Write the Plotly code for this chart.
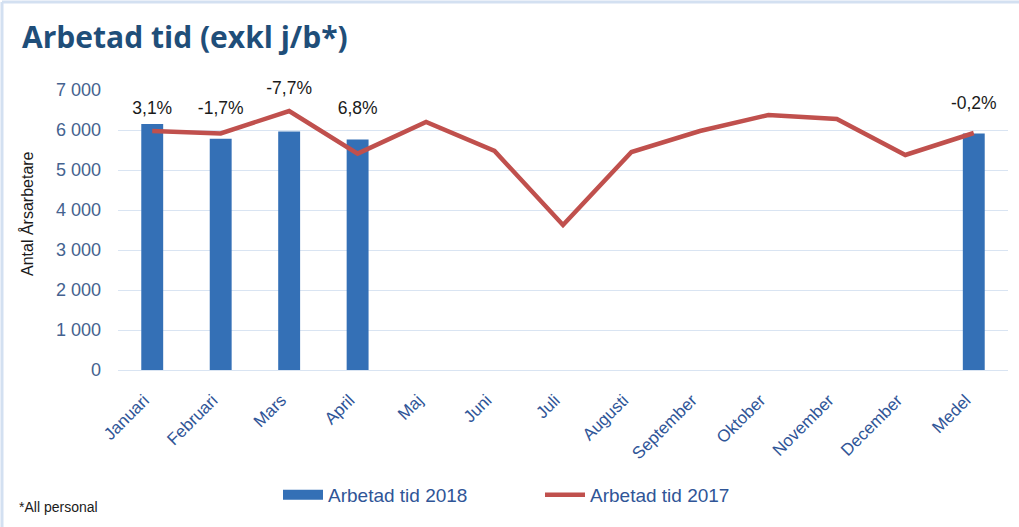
import plotly.graph_objects as go

categories = ["Januari", "Februari", "Mars", "April", "Maj", "Juni", "Juli",
              "Augusti", "September", "Oktober", "November", "December", "Medel"]
values_2018 = [6150, 5780, 5965, 5760, None, None, None, None, None, None, None, None, 5915]
values_2017 = [5975, 5915, 6475, 5410, 6200, 5475, 3625, 5450, 5975, 6375, 6275, 5375, 5925]
label_categories = ["Januari", "Februari", "Mars", "April", "Medel"]
label_texts = ["3,1%", "-1,7%", "-7,7%", "6,8%", "-0,2%"]
label_y = [6500, 6500, 7000, 6500, 6625]
tick_vals = [0, 1000, 2000, 3000, 4000, 5000, 6000, 7000]
tick_text = ["0", "1 000", "2 000", "3 000", "4 000", "5 000", "6 000", "7 000"]

W, H = 1019, 527
L, R, T, B = 118, 11, 90, 157
pw, ph = W - L - R, H - T - B
BLUE = "#3470B6"
RED = "#C0504D"


def px(x):
    return (x - L) / pw


def py(y):
    return (H - B - y) / ph


fig = go.Figure()
fig.add_trace(go.Bar(
    x=categories, y=values_2018, name="Arbetad tid 2018",
    marker=dict(color=BLUE, line=dict(width=0)), width=0.32, showlegend=False,
))
fig.add_trace(go.Scatter(
    x=categories, y=values_2017, name="Arbetad tid 2017", mode="lines",
    line=dict(color=RED, width=4.5), showlegend=False,
))
fig.add_trace(go.Scatter(
    x=label_categories, y=label_y, mode="text", text=label_texts, cliponaxis=False,
    textfont=dict(size=17.5, color="#1a1a1a", family="Liberation Sans"),
    showlegend=False, hoverinfo="skip",
))
# legend entries (wide rectangle / line symbols as in the reference)
fig.add_trace(go.Scatter(x=[None], y=[None], mode="lines", name="Arbetad tid 2018",
                         line=dict(color=BLUE, width=10)))
fig.add_trace(go.Scatter(x=[None], y=[None], mode="lines", name="Arbetad tid 2017",
                         line=dict(color=RED, width=4.5)))

fig.update_layout(
    width=W, height=H,
    margin=dict(l=L, r=R, t=T, b=B),
    paper_bgcolor="white", plot_bgcolor="white",
    title=dict(text="<b>Arbetad tid (exkl j/b*)</b>", xref="container", yref="container",
               x=22 / W, xanchor="left", y=1 - 37 / H, yanchor="middle",
               font=dict(family="Open Sans", size=30, color="#1F4E79")),
    xaxis=dict(type="category", range=[-0.5, len(categories) - 0.5], tickangle=-45,
               showgrid=False, showline=False, ticks="", ticklabelstandoff=16,
               ticklabelshift=-8,
               tickfont=dict(family="Liberation Sans", size=17, color="#2F5597")),
    yaxis=dict(range=[0, 7000], tickvals=tick_vals, ticktext=tick_text,
               showgrid=True, gridcolor="#D9E4F2", gridwidth=1, zeroline=True,
               zerolinecolor="#D9E4F2", zerolinewidth=1, showline=False, ticks="",
               ticklabelstandoff=16,
               tickfont=dict(family="Liberation Sans", size=18, color="#44628F")),
    legend=dict(orientation="h", x=px(278), xanchor="left", y=py(495), yanchor="middle",
                font=dict(family="Liberation Sans", size=19, color="#2F5597"),
                entrywidth=207, entrywidthmode="pixels", bgcolor="rgba(0,0,0,0)",
                itemwidth=40),
    showlegend=True,
)

fig.add_annotation(text="Antal Årsarbetare", xref="paper", yref="paper",
                   x=px(27), y=py(214), xanchor="center", yanchor="middle",
                   textangle=-90, showarrow=False,
                   font=dict(family="Liberation Sans", size=16, color="#1a1a1a"))
fig.add_annotation(text="*All personal", xref="paper", yref="paper",
                   x=px(17), y=py(507), xanchor="left", yanchor="middle", showarrow=False,
                   font=dict(family="Liberation Sans", size=14, color="#1a1a1a"))

fig.add_shape(type="line", xref="paper", yref="paper", x0=px(2), x1=px(1019), y0=py(2), y1=py(2),
              line=dict(color="#D3E0F1", width=3))
fig.add_shape(type="line", xref="paper", yref="paper", x0=px(2), x1=px(2), y0=py(2), y1=py(527),
              line=dict(color="#D3E0F1", width=3))

fig.write_html("out.html", config={"displayModeBar": False},
               post_script="document.body.style.margin='0';")
